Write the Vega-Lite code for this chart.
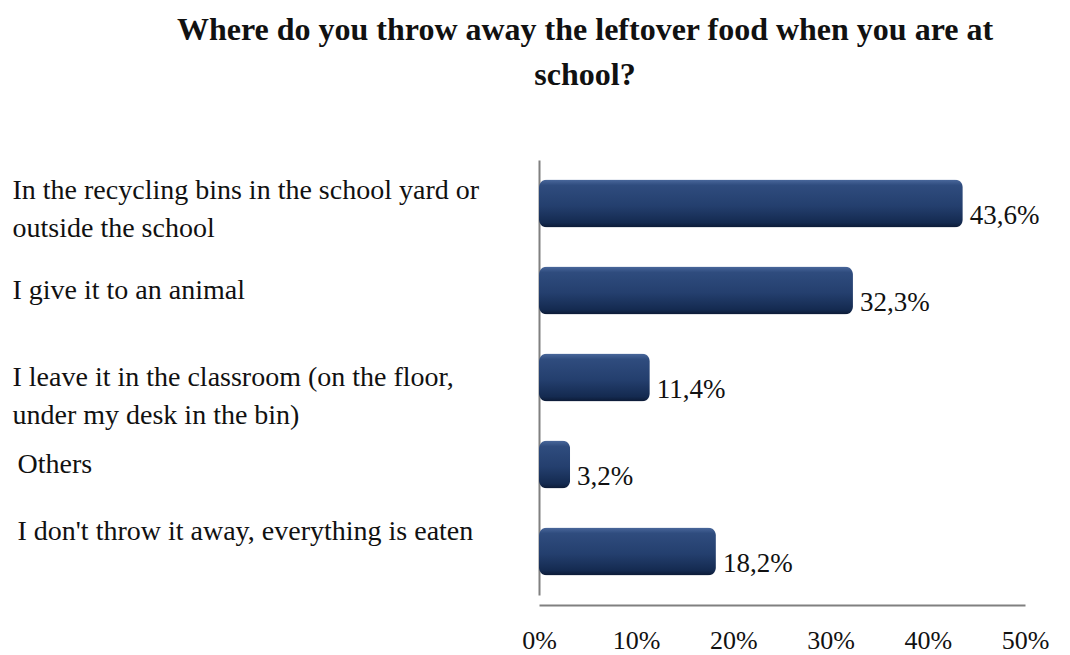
{
  "$schema": "https://vega.github.io/schema/vega-lite/v6.json",
  "width": 486,
  "height": 435,
  "autosize": {"type": "none"},
  "padding": {"left": 539, "top": 160, "right": 45, "bottom": 60},
  "background": "white",
  "config": {
    "view": {"stroke": null},
    "locale": {"number": {"decimal": ",", "thousands": ".", "grouping": [3], "currency": ["", " €"]}},
    "font": "Liberation Serif"
  },
  "title": {
    "text": ["Where do you throw away the leftover food when you are at", "school?"],
    "font": "Liberation Serif",
    "fontSize": 32,
    "fontWeight": "bold",
    "color": "#111111",
    "lineHeight": 45,
    "anchor": "middle",
    "dx": -197,
    "offset": 68
  },
  "data": {
    "values": [
      {"label": "In the recycling bins in the school yard or|outside the school", "value": 0.436},
      {"label": "I give it to an animal", "value": 0.323},
      {"label": "I leave it in the classroom (on the floor,|under my desk in the bin)", "value": 0.114},
      {"label": "Others", "value": 0.032},
      {"label": "I don't throw it away, everything is eaten", "value": 0.182}
    ]
  },
  "encoding": {
    "y": {
      "field": "label",
      "type": "nominal",
      "sort": null,
      "scale": {"paddingInner": 0.45, "paddingOuter": 0.225},
      "axis": {
        "title": null,
        "ticks": false,
        "labelExpr": "split(datum.label, '|')",
        "labelAlign": "left",
        "labelPadding": {"condition": {"test": "datum.value == 'Others' || indexof(datum.value, 'I don') == 0", "value": 522}, "value": 527},
        "labelOffset": {"condition": [
          {"test": "indexof(datum.value, 'In the') == 0", "value": -13},
          {"test": "indexof(datum.value, 'I don') == 0", "value": -20}
        ], "value": 0},
        "labelFont": "Liberation Serif",
        "labelFontSize": 28,
        "labelLineHeight": 38,
        "labelColor": "#111111",
        "labelLimit": 0,
        "domainColor": "#808080",
        "domainWidth": 2
      }
    },
    "x": {
      "field": "value",
      "type": "quantitative",
      "scale": {"domain": [0, 0.5]},
      "axis": {
        "title": null,
        "format": ".0%",
        "values": [0, 0.1, 0.2, 0.3, 0.4, 0.5],
        "grid": false,
        "ticks": false,
        "offset": 10,
        "labelPadding": 22,
        "labelFont": "Liberation Serif",
        "labelFontSize": 26,
        "labelColor": "#111111",
        "domainColor": "#808080",
        "domainWidth": 2,
        "labelFlush": false
      }
    }
  },
  "layer": [
    {
      "mark": {
        "type": "bar",
        "cornerRadius": 8,
        "color": {
          "gradient": "linear",
          "x1": 0, "y1": 0, "x2": 0, "y2": 1,
          "stops": [
            {"offset": 0, "color": "#4a689c"},
            {"offset": 0.12, "color": "#2f4c7e"},
            {"offset": 0.55, "color": "#243f6e"},
            {"offset": 0.9, "color": "#142a50"},
            {"offset": 1, "color": "#0c1a35"}
          ]
        }
      }
    },
    {
      "mark": {"type": "text", "align": "left", "baseline": "middle", "dx": 7, "dy": 12, "font": "Liberation Serif", "fontSize": 27, "color": "#111111"},
      "encoding": {"text": {"field": "value", "type": "quantitative", "format": ".1%"}}
    }
  ]
}
